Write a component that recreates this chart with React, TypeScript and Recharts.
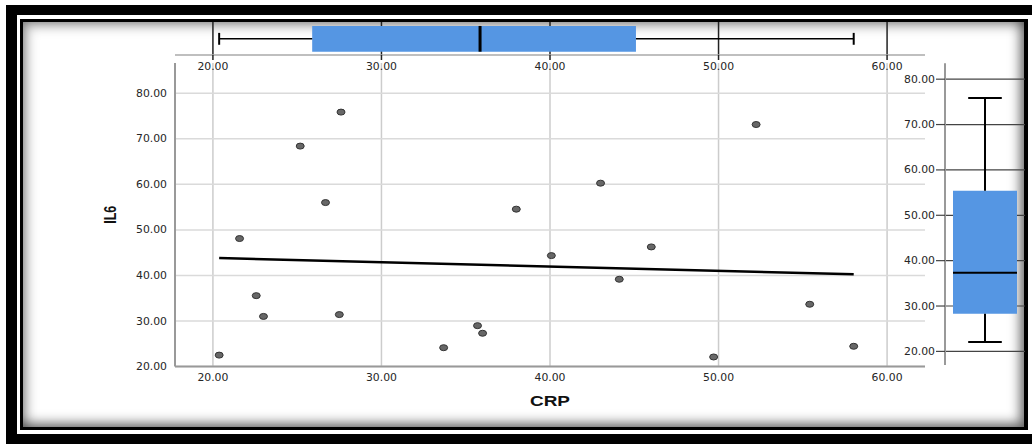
import {
  ScatterChart,
  Scatter,
  XAxis,
  YAxis,
  CartesianGrid,
  ReferenceArea,
  ReferenceLine,
} from 'recharts'

// scatter values
const crp = [20.37, 21.58, 22.57, 23.0, 25.18, 26.68, 27.6, 27.5, 33.69, 35.7, 36.0, 38.0, 40.08, 43.0, 44.11, 46.01, 49.71, 52.23, 55.41, 58.02]
const il6 = [22.5, 48.1, 35.56, 31.0, 68.4, 56.0, 75.87, 31.4, 24.13, 28.97, 27.3, 54.55, 44.35, 60.26, 39.16, 46.26, 22.09, 73.14, 33.67, 24.44]

// fit line end points
const fitCrp = [20.37, 58.02]
const fitIl6 = [43.8, 40.26]

// box plots: min, q1, median, q3, max
const crpBox = [20.37, 25.89, 35.85, 45.1, 58.02]
const il6Box = [22.09, 28.3, 37.36, 55.4, 75.87]

const crpTicks = [20, 30, 40, 50, 60]
const il6Ticks = [20, 30, 40, 50, 60, 70, 80]

const points = crp.map((c, i) => ({ crp: c, il6: il6[i] }))
const fit = fitCrp.map((c, i) => ({ crp: c, il6: fitIl6[i] }))
// box plot summaries placed on the middle of their strip (invisible anchors for the axes)
const crpBoxPts = crpBox.map((v) => ({ crp: v, pos: 0.5 }))
const il6BoxPts = il6Box.map((v) => ({ pos: 0.5, il6: v }))

const W = 1032
const H = 444
const crpDomain: [number, number] = [17.75, 62.25]
const BOX_BLUE = '#5596e3'

function Tick(props: any) {
  const { x, y, payload, textAnchor, verticalAnchor } = props
  const dy = verticalAnchor === 'start' ? '0.71em' : verticalAnchor === 'end' ? '0' : '0.355em'
  return (
    <text
      x={x}
      y={y}
      dy={dy}
      textAnchor={textAnchor}
      fill="#262626"
      fontSize={10}
      fontFamily="DejaVu Sans"
      textLength={31}
      lengthAdjust="spacingAndGlyphs"
    >
      {Number(payload.value).toFixed(2)}
    </text>
  )
}

function CrpLabel({ viewBox }: any) {
  return (
    <text
      x={viewBox.x + viewBox.width / 2}
      y={viewBox.y + 39}
      textAnchor="middle"
      fill="#111"
      fontSize={15}
      fontWeight="bold"
      fontFamily="Liberation Sans"
      textLength={40}
      lengthAdjust="spacingAndGlyphs"
    >
      CRP
    </text>
  )
}

function Il6Label({ viewBox }: any) {
  const cx = viewBox.x - 5
  const cy = viewBox.y + viewBox.height / 2
  return (
    <text
      x={cx}
      y={cy}
      dy="0.36em"
      transform={`rotate(-90 ${cx} ${cy})`}
      textAnchor="middle"
      fill="#111"
      fontSize={16}
      fontWeight="bold"
      fontFamily="Liberation Sans"
      textLength={18}
      lengthAdjust="spacingAndGlyphs"
    >
      IL6
    </text>
  )
}

const Dot = ({ cx, cy }: any) => (
  <ellipse cx={cx} cy={cy} rx={4} ry={3} fill="#676767" stroke="#333" strokeWidth={1} />
)
const NoDot = () => <g />

const abs = { position: 'absolute' as const, left: 0, top: 0 }

export default function App() {
  const [cMin, cQ1, cMed, cQ3, cMax] = crpBox
  const [iMin, iQ1, iMed, iQ3, iMax] = il6Box
  return (
    <div style={{ position: 'fixed', left: 0, top: 0, width: W, height: H, background: '#fff', overflow: 'hidden' }}>
      {/* frame */}
      <div
        style={{
          position: 'absolute',
          left: 6,
          top: 5,
          width: W - 6 - 11,
          height: H - 5 - 20,
          borderLeft: '11px solid #000',
          borderTop: '10px solid #000',
          borderBottom: '10px solid #000',
        }}
      />
      <div
        style={{
          position: 'absolute',
          left: 20,
          top: 19,
          width: 1001,
          height: 405,
          border: '3px solid #000',
          borderRight: '4px solid #000',
          background: '#fff',
          boxShadow: 'inset -4px -4px 12px rgba(0,0,0,0.55), inset 4px 4px 12px rgba(0,0,0,0.35)',
        }}
      />

      {/* main scatter */}
      <div style={abs}>
        <ScatterChart width={W} height={H} margin={{ top: 63, right: 107, bottom: 47.5, left: 115 }}>
          <CartesianGrid horizontal={false} syncWithTicks stroke="#cccccc" strokeWidth={1.5} />
          <CartesianGrid vertical={false} syncWithTicks stroke="#dadada" strokeWidth={1.5} />
          <XAxis
            type="number"
            dataKey="crp"
            domain={crpDomain}
            ticks={crpTicks}
            allowDataOverflow
            tickLine={false}
            tickSize={5}
            tickMargin={2}
            axisLine={{ stroke: '#999', strokeWidth: 2 }}
            tick={<Tick />}
            height={30}
            label={{ value: 'CRP', content: CrpLabel }}
          />
          <YAxis
            type="number"
            dataKey="il6"
            domain={[20, 86.65]}
            ticks={il6Ticks}
            allowDataOverflow
            tickLine={false}
            tickSize={6}
            tickMargin={2}
            axisLine={{ stroke: '#999', strokeWidth: 2 }}
            tick={<Tick />}
            width={60}
            label={{ value: 'IL6', content: Il6Label }}
          />
          <Scatter
            data={fit}
            line={{ stroke: '#000', strokeWidth: 2.5 }}
            shape={NoDot}
            isAnimationActive={false}
          />
          <Scatter data={points} shape={Dot} isAnimationActive={false} />
        </ScatterChart>
      </div>

      {/* CRP box plot on top */}
      <div style={abs}>
        <ScatterChart width={W} height={80} margin={{ top: 22, right: 107, bottom: 5, left: 175 }}>
          <CartesianGrid horizontal={false} syncWithTicks stroke="#222" strokeWidth={1.5} />
          <XAxis
            type="number"
            dataKey="crp"
            domain={crpDomain}
            ticks={crpTicks}
            allowDataOverflow
            tickLine={{ stroke: '#222', strokeWidth: 1.5 }}
            tickSize={5}
            tickMargin={3}
            axisLine={{ stroke: '#aaa', strokeWidth: 1.5 }}
            tick={<Tick />}
            height={20}
          />
          <YAxis type="number" dataKey="pos" domain={[0, 1]} allowDataOverflow hide />
          <Scatter data={crpBoxPts} shape={NoDot} isAnimationActive={false} />
          <ReferenceArea x1={cQ1} x2={cQ3} y1={0.1} y2={0.88} fill={BOX_BLUE} fillOpacity={1} stroke="none" />
          <ReferenceLine segment={[{ x: cMin, y: 0.49 }, { x: cQ1, y: 0.49 }]} stroke="#000" strokeWidth={1.5} />
          <ReferenceLine segment={[{ x: cQ3, y: 0.49 }, { x: cMax, y: 0.49 }]} stroke="#000" strokeWidth={1.5} />
          <ReferenceLine segment={[{ x: cMin, y: 0.31 }, { x: cMin, y: 0.67 }]} stroke="#000" strokeWidth={2} />
          <ReferenceLine segment={[{ x: cMax, y: 0.31 }, { x: cMax, y: 0.67 }]} stroke="#000" strokeWidth={2} />
          <ReferenceLine segment={[{ x: cMed, y: 0.1 }, { x: cMed, y: 0.88 }]} stroke="#000" strokeWidth={3} />
        </ScatterChart>
      </div>

      {/* IL6 box plot on the right */}
      <div style={abs}>
        <ScatterChart width={W} height={H} margin={{ top: 63.3, right: 7, bottom: 79, left: 895 }}>
          <CartesianGrid vertical={false} syncWithTicks stroke="#444" strokeWidth={1.2} />
          <XAxis type="number" dataKey="pos" domain={[0, 1]} allowDataOverflow hide />
          <YAxis
            type="number"
            dataKey="il6"
            domain={[17, 83.5]}
            ticks={il6Ticks}
            allowDataOverflow
            tickLine={{ stroke: '#444', strokeWidth: 1.2 }}
            tickSize={9}
            tickMargin={1}
            axisLine={{ stroke: '#999', strokeWidth: 2 }}
            tick={<Tick />}
            width={50}
          />
          <Scatter data={il6BoxPts} shape={NoDot} isAnimationActive={false} />
          <ReferenceArea x1={0.1} x2={0.9} y1={iQ1} y2={iQ3} fill={BOX_BLUE} fillOpacity={1} stroke="none" />
          <ReferenceLine segment={[{ x: 0.5, y: iMin }, { x: 0.5, y: iQ1 }]} stroke="#000" strokeWidth={2} />
          <ReferenceLine segment={[{ x: 0.5, y: iQ3 }, { x: 0.5, y: iMax }]} stroke="#000" strokeWidth={2} />
          <ReferenceLine segment={[{ x: 0.29, y: iMin }, { x: 0.71, y: iMin }]} stroke="#000" strokeWidth={2} />
          <ReferenceLine segment={[{ x: 0.29, y: iMax }, { x: 0.71, y: iMax }]} stroke="#000" strokeWidth={2} />
          <ReferenceLine segment={[{ x: 0.1, y: iMed }, { x: 0.9, y: iMed }]} stroke="#000" strokeWidth={2} />
        </ScatterChart>
      </div>
    </div>
  )
}
